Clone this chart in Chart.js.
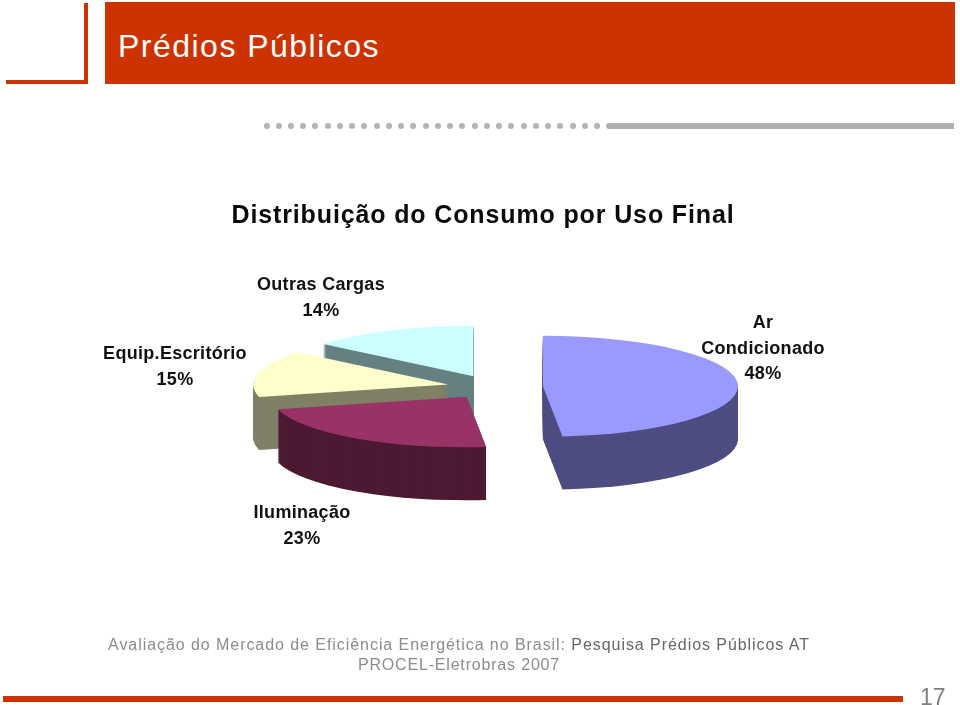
<!DOCTYPE html>
<html lang="pt">
<head>
<meta charset="utf-8">
<title>Prédios Públicos</title>
<script src="https://cdn.jsdelivr.net/npm/chart.js@4"></script>
<style>
html,body{margin:0;padding:0;background:#fff;width:960px;height:705px;overflow:hidden;font-family:"Liberation Sans",Arial,sans-serif}
#wrap{position:absolute;left:0;top:0;width:960px;height:705px;overflow:hidden}
canvas{position:absolute;left:0;top:0}
.a{position:absolute;white-space:nowrap}
</style>
</head>
<body>
<div id="wrap">
<canvas id="c" width="960" height="705" style="width:960px;height:705px"></canvas>
<div class="a" style="left:105px;top:2px;width:850px;height:82px;background:#cc3300"></div>
<div class="a" style="left:84px;top:3px;width:4px;height:81px;background:#cc3300"></div>
<div class="a" style="left:6px;top:80px;width:82px;height:4px;background:#cc3300"></div>
<div class="a" style="left:118px;top:27px;font-size:32px;line-height:38px;letter-spacing:1.48px;color:#fff">Prédios Públicos</div>
<div id="dots"></div>
<div class="a" style="left:606px;top:123px;width:348px;height:6px;background:#b0b0b0;border-radius:3px 0 0 3px"></div>
<div class="a" style="left:0;width:918px;top:635px;text-align:center;font-size:16px;line-height:20px;letter-spacing:.94px;color:#8c8c8c">Avaliação do Mercado de Eficiência Energética no Brasil: <span style="color:#666">Pesquisa Prédios Públicos AT</span></div>
<div class="a" style="left:0;width:918px;top:655px;text-align:center;font-size:16px;line-height:20px;letter-spacing:.82px;color:#8c8c8c">PROCEL-Eletrobras 2007</div>
<div class="a" style="left:3px;top:696px;width:900px;height:6px;background:#cc3300"></div>
<div class="a" style="left:920px;top:684px;font-size:23px;line-height:26px;color:#808080">17</div>
</div>
<script>
const categories = ["Ar Condicionado", "Iluminação", "Equip.Escritório", "Outras Cargas"];
const shares = [48.4, 22.6, 15, 14];
const labelLines = [["Ar", "Condicionado"], ["Iluminação"], ["Equip.Escritório"], ["Outras Cargas"]];
const topColors = ["#9999ff", "#993366", "#ffffcc", "#ccffff"];
const wallColors = ["#4d4d80", "#4d1a33", "#808066", "#668080"];
const explode = [50, 46, 46, 46];
const labelAnchors = [[763, 323], [302, 513], [175, 354], [321, 285]];
const chartTitle = "Distribuição do Consumo por Uso Final";

// row of grey dots in the header
(function () {
  const host = document.getElementById("dots");
  for (let i = 0; i < 28; i++) {
    const d = document.createElement("div");
    d.className = "a";
    d.style.cssText = "left:" + (263.5 + i * 12.24) + "px;top:123px;width:6px;height:6px;border-radius:50%;background:#b4b4b4";
    host.appendChild(d);
  }
})();

const TILT = 0.259, DEPTH = 53, SHIFT_X = 10;

const pie3d = {
  id: "pie3d",
  beforeDraw(chart) { chart.ctx.letterSpacing = "0.87px"; },
  beforeDatasetDraw(chart) {
    const ctx = chart.ctx;
    const arcs = chart.getDatasetMeta(0).data;
    const sector = (arc, i, dy) => {
      const mid = (arc.startAngle + arc.endAngle) / 2;
      const cx = arc.x + SHIFT_X + Math.cos(mid) * explode[i];
      const cy = arc.y + Math.sin(mid) * explode[i] * TILT + dy;
      ctx.beginPath();
      ctx.moveTo(cx, cy);
      ctx.ellipse(cx, cy, arc.outerRadius, arc.outerRadius * TILT, 0, arc.startAngle, arc.endAngle);
      ctx.closePath();
    };
    // back to front: later slices sit over the walls of the earlier ones
    for (let i = arcs.length - 1; i >= 0; i--) {
      ctx.fillStyle = wallColors[i];
      for (let dy = DEPTH; dy > 0; dy--) { sector(arcs[i], i, dy); ctx.fill(); }
      ctx.fillStyle = topColors[i];
      sector(arcs[i], i, 0);
      ctx.fill();
    }
    return false;
  },
  afterDatasetsDraw(chart) {
    const ctx = chart.ctx;
    ctx.save();
    ctx.font = "bold 18px 'Liberation Sans', Arial, sans-serif";
    ctx.letterSpacing = "0.3px";
    ctx.fillStyle = "#111";
    ctx.textAlign = "center";
    ctx.textBaseline = "middle";
    categories.forEach((c, i) => {
      const lines = labelLines[i].concat(Math.round(shares[i]) + "%");
      lines.forEach((t, k) => ctx.fillText(t, labelAnchors[i][0], labelAnchors[i][1] + k * 25.7));
    });
    ctx.restore();
  }
};

new Chart(document.getElementById("c"), {
  type: "pie",
  data: {
    labels: categories,
    datasets: [{ data: shares, backgroundColor: topColors, borderWidth: 0 }]
  },
  options: {
    responsive: false,
    animation: false,
    events: [],
    radius: 195,
    layout: { padding: { left: 6, right: 0, top: 0, bottom: 162 } },
    plugins: {
      legend: { display: false },
      tooltip: { enabled: false },
      title: {
        display: true,
        text: chartTitle,
        color: "#0a0a0a",
        font: { family: "'Liberation Sans', Arial, sans-serif", size: 25, weight: "bold", lineHeight: 1.2 },
        padding: { top: 201, bottom: 0 }
      }
    }
  },
  plugins: [pie3d]
});
</script>
</body>
</html>
